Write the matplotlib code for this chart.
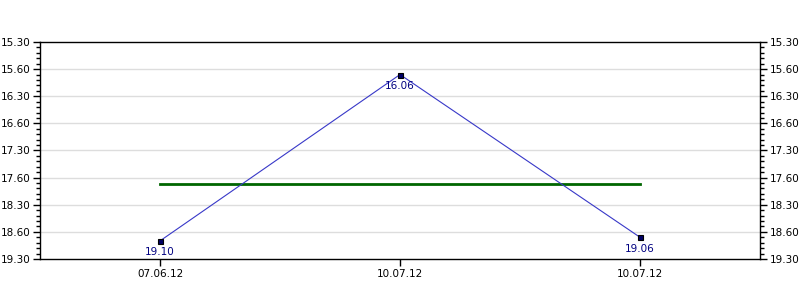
import numpy as np
import matplotlib
matplotlib.use("Agg")
import matplotlib.pyplot as plt
from matplotlib.ticker import AutoMinorLocator

plt.rcParams.update({"font.size": 7.5, "font.family": "DejaVu Sans"})

# data: times of day as "hh.mm" strings
dates = ["07.06.12", "10.07.12", "10.07.12"]
times = ["19.10", "16.06", "19.06"]
ytick_labels = ["15.30", "15.60", "16.30", "16.60", "17.30",
                "17.60", "18.30", "18.60", "19.30"]
ytick_hours = [15.5, 16.0, 16.5, 17.0, 17.5, 18.0, 18.5, 19.0, 19.5]


def to_hours(s):
    h, m = s.split(".")
    return int(h) + int(m) / 60.0


vals = np.array([to_hours(t) for t in times])
avg = vals.mean()
x = np.arange(len(dates)) + 0.5

fig = plt.figure(figsize=(8, 3), dpi=100)
ax = fig.add_axes([0.05, 0.1367, 0.90, 0.7233])

ax.set_xlim(0, len(dates))
ax.set_ylim(19.5, 15.5)

for yv in ytick_hours[1:-1]:
    ax.axhline(yv, color="#dddddd", lw=1, zorder=0)

ax.plot(x, vals, color="#3838c8", lw=0.8, zorder=2)
ax.plot(x, vals, ls="none", marker="s", ms=3.6, mfc="#000066",
        mec="black", mew=0.8, zorder=3)
ax.plot([x[0], x[-1]], [avg, avg], color="#006600", lw=2, zorder=1)

for xi, v, t in zip(x, vals, times):
    ax.annotate(t, (xi, v), xytext=(0, -4.5), textcoords="offset points",
                ha="center", va="top", color="#000080", fontsize=7.5)

ax.set_xticks(x)
ax.set_xticklabels(dates)
ax.set_yticks(ytick_hours)
ax.set_yticklabels(ytick_labels)
ax.yaxis.set_minor_locator(AutoMinorLocator(5))
ax.tick_params(axis="y", which="major", length=5, width=1, direction="out",
               left=True, right=True, labelleft=True, labelright=True, pad=2)
ax.tick_params(axis="y", which="minor", length=3, width=1, direction="out",
               left=True, right=True)
ax.tick_params(axis="x", length=5, width=1, direction="out", pad=2)

for sp in ax.spines.values():
    sp.set_color("black")
    sp.set_linewidth(1)

fig.savefig("out.png", dpi=100)
